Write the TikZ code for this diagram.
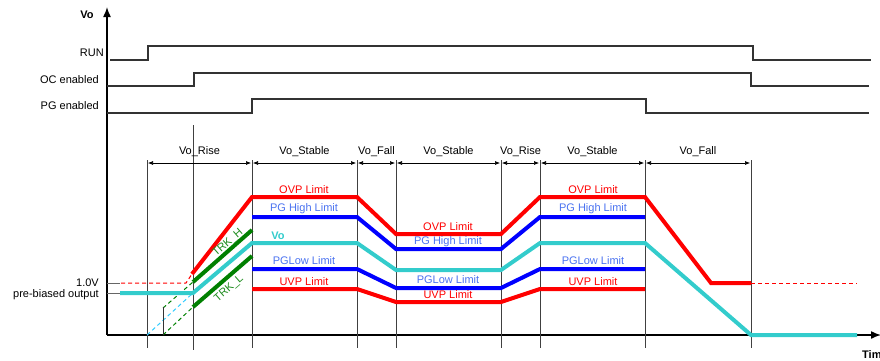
\documentclass[tikz,border=0pt]{standalone}
\usepackage{fontspec}
\setmainfont{Liberation Sans}
\usetikzlibrary{arrows.meta}
\definecolor{ovp}{HTML}{FF0000}
\definecolor{pgl}{HTML}{0000FF}
\definecolor{pgt}{HTML}{4A72F0}
\definecolor{vo}{HTML}{33CCCC}
\definecolor{vod}{HTML}{33CCFF}
\definecolor{trk}{HTML}{008000}
\definecolor{trkt}{HTML}{1E8C1E}
\begin{document}
\begin{tikzpicture}[x=1bp,y=-1bp,
  font=\fontsize{11bp}{13bp}\selectfont,
  thick line/.style={line width=4bp},
  sig/.style={line width=1.2bp, black!80},
  guide/.style={line width=0.6bp, black!75},
  lead/.style={line width=0.8bp, black!60},
  thin dash/.style={line width=1bp, dash pattern=on 4bp off 3bp},
  dimarrow/.style={line width=0.6bp, {Latex[length=5bp,width=4bp]}-{Latex[length=5bp,width=4bp]}, shorten <=1bp, shorten >=1bp},
  axisarrow/.style={line width=1.5bp, -{Latex[length=10bp,width=8bp]}},
  lbl/.style={inner sep=0pt, anchor=center},
  sidelbl/.style={inner sep=0pt, anchor=east}]
\useasboundingbox (0,0) rectangle (880,360);

% axes
\coordinate (o) at (107,335);
\coordinate (ytop) at (107,7);
\coordinate (xend) at (881,335);
\draw[axisarrow] (o) -- (ytop);
\draw[axisarrow] (o) -- (xend);
\node[lbl, font=\fontsize{11bp}{13bp}\selectfont\bfseries] (vol) at (87,15) {Vo};
\node[inner sep=0pt, anchor=west, font=\fontsize{11bp}{13bp}\selectfont\bfseries] (timel) at (862,355) {Time};

% digital signals
\draw[sig] (110,60) -- (148,60) -- (148,46) -- (753,46) -- (753,60) -- (871,60);
\draw[sig] (107,86) -- (194,86) -- (194,73) -- (751,73) -- (751,86) -- (869,86);
\draw[sig] (107,113) -- (252,113) -- (252,99) -- (646,99) -- (646,113) -- (869,113);
\node[sidelbl] (runl) at (104,53) {RUN};
\node[sidelbl] (ocl) at (99,80) {OC enabled};
\node[sidelbl] (pgl) at (99,106) {PG enabled};

% guides
\foreach \x in {147,252,357,396,501,540,645,751}
  \draw[guide] (\x,160) -- (\x,348);
\draw[guide] (193,125) -- (193,350);

% phase dimensions
\foreach \a/\b/\t in {147/252/Vo\_Rise, 252/357/Vo\_Stable, 357/396/Vo\_Fall, 396/501/Vo\_Stable, 501/540/Vo\_Rise, 540/645/Vo\_Stable, 645/751/Vo\_Fall}{
  \draw[dimarrow] (\a,163) -- (\b,163);
  \node[lbl] at ({(\a+\b)/2},152) {\t};
}

% pre-bias leaders
\draw[lead] (107,283) -- (120,283);
\draw[lead] (107,293) -- (120,293);
\node[sidelbl] (v1) at (99,283) {1.0V};
\node[sidelbl] (pb) at (99,295) {pre-biased output};

% dashed helpers
\draw[ovp, thin dash] (121,283) -- (186,283) -- (192,274);
\draw[ovp, thin dash] (751,283) -- (857,283);
\draw[vod, thin dash] (147,335) -- (193,293);
\draw[trk, thin dash] (163,308) -- (193,282);
\draw[trk, thin dash] (163,335) -- (193,307);
\draw[line width=0.8bp, black!80] (163,307) -- (163,335);

% thick traces
\draw[ovp, thick line] (192,274) -- (252,197) -- (357,197) -- (396,234) -- (501,234) -- (540,197) -- (645,197) -- (711,283) -- (751,283);
\draw[pgl, thick line] (252,217) -- (357,217) -- (396,249) -- (501,249) -- (540,217) -- (645,217);
\draw[vo, thick line] (120,293) -- (193,293) -- (252,243) -- (357,243) -- (396,270) -- (501,270) -- (540,243) -- (645,243) -- (751,335) -- (857,335);
\draw[pgl, thick line] (252,269) -- (357,269) -- (396,288) -- (501,288) -- (540,269) -- (645,269);
\draw[ovp, thick line] (252,289) -- (357,289) -- (396,302) -- (501,302) -- (540,289) -- (645,289);
\draw[trk, thick line] (193,282) -- (252,230);
\draw[trk, thick line] (193,307) -- (252,256);

% trace labels
\node[lbl, trkt, rotate=41] (trkh) at (228,243) {TRK\_H};
\node[lbl, trkt, rotate=41] (trkl) at (229,289) {TRK\_L};
\node[lbl, vo, font=\fontsize{11bp}{13bp}\selectfont\bfseries] (vot) at (278,236) {Vo};
\foreach \c in {304,593}{
  \node[lbl, ovp] at (\c,190) {OVP Limit};
  \node[lbl, pgt] at (\c,209) {PG High Limit};
  \node[lbl, pgt] at (\c,261) {PGLow Limit};
  \node[lbl, ovp] at (\c,282) {UVP Limit};
}
\node[lbl, ovp] (ovp2) at (448,227) {OVP Limit};
\node[lbl, pgt] (pgh2) at (448,242) {PG High Limit};
\node[lbl, pgt] (pgl2) at (448,280) {PGLow Limit};
\node[lbl, ovp] (uvp2) at (448,295) {UVP Limit};
\end{tikzpicture}
\end{document}
